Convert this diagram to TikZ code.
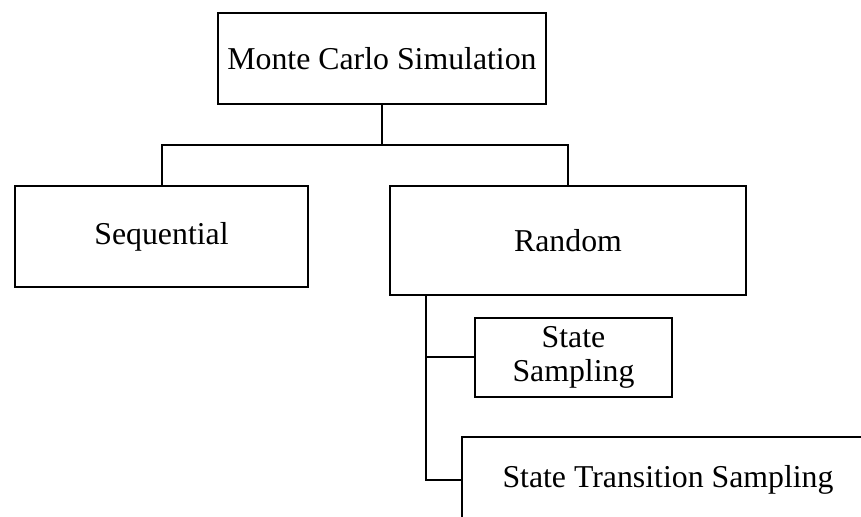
\documentclass[tikz,border=0pt]{standalone}
\usepackage{fontspec}
\setmainfont{Liberation Serif}
\usetikzlibrary{positioning}

\begin{document}
\begin{tikzpicture}[x=0.5pt,y=-0.5pt,line width=1pt,
  every node/.style={font=\fontsize{15.9}{17}\selectfont},
  box/.style={draw,inner sep=0pt,align=center}]
\useasboundingbox (0,0) rectangle (861,517);
\clip (0,0) rectangle (861,517);
\node[box,minimum width=164pt,minimum height=45.5pt] (mc) at (382,58.5) {Monte Carlo Simulation};
\node[box,minimum width=146.5pt,minimum height=50.5pt] (seq) at (161.5,236.5) {Sequential};
\node[box,minimum width=178pt,minimum height=54.5pt] (rnd) at (568,240.5) {Random};
\node[box,minimum width=98.5pt,minimum height=39.5pt] (ss) at (573.5,357.5) {State\\Sampling};
\node[box,minimum width=206pt,minimum height=43pt] (sts) at (668,480) {State Transition Sampling};
\coordinate (bus) at (382,145);
\coordinate (spine) at (426,295);
\draw (mc.south) -- (bus);
\draw (seq.north) |- (bus) -| (rnd.north);
\draw (spine) |- (ss.west);
\draw (spine) |- (sts.west);
\end{tikzpicture}
\end{document}
